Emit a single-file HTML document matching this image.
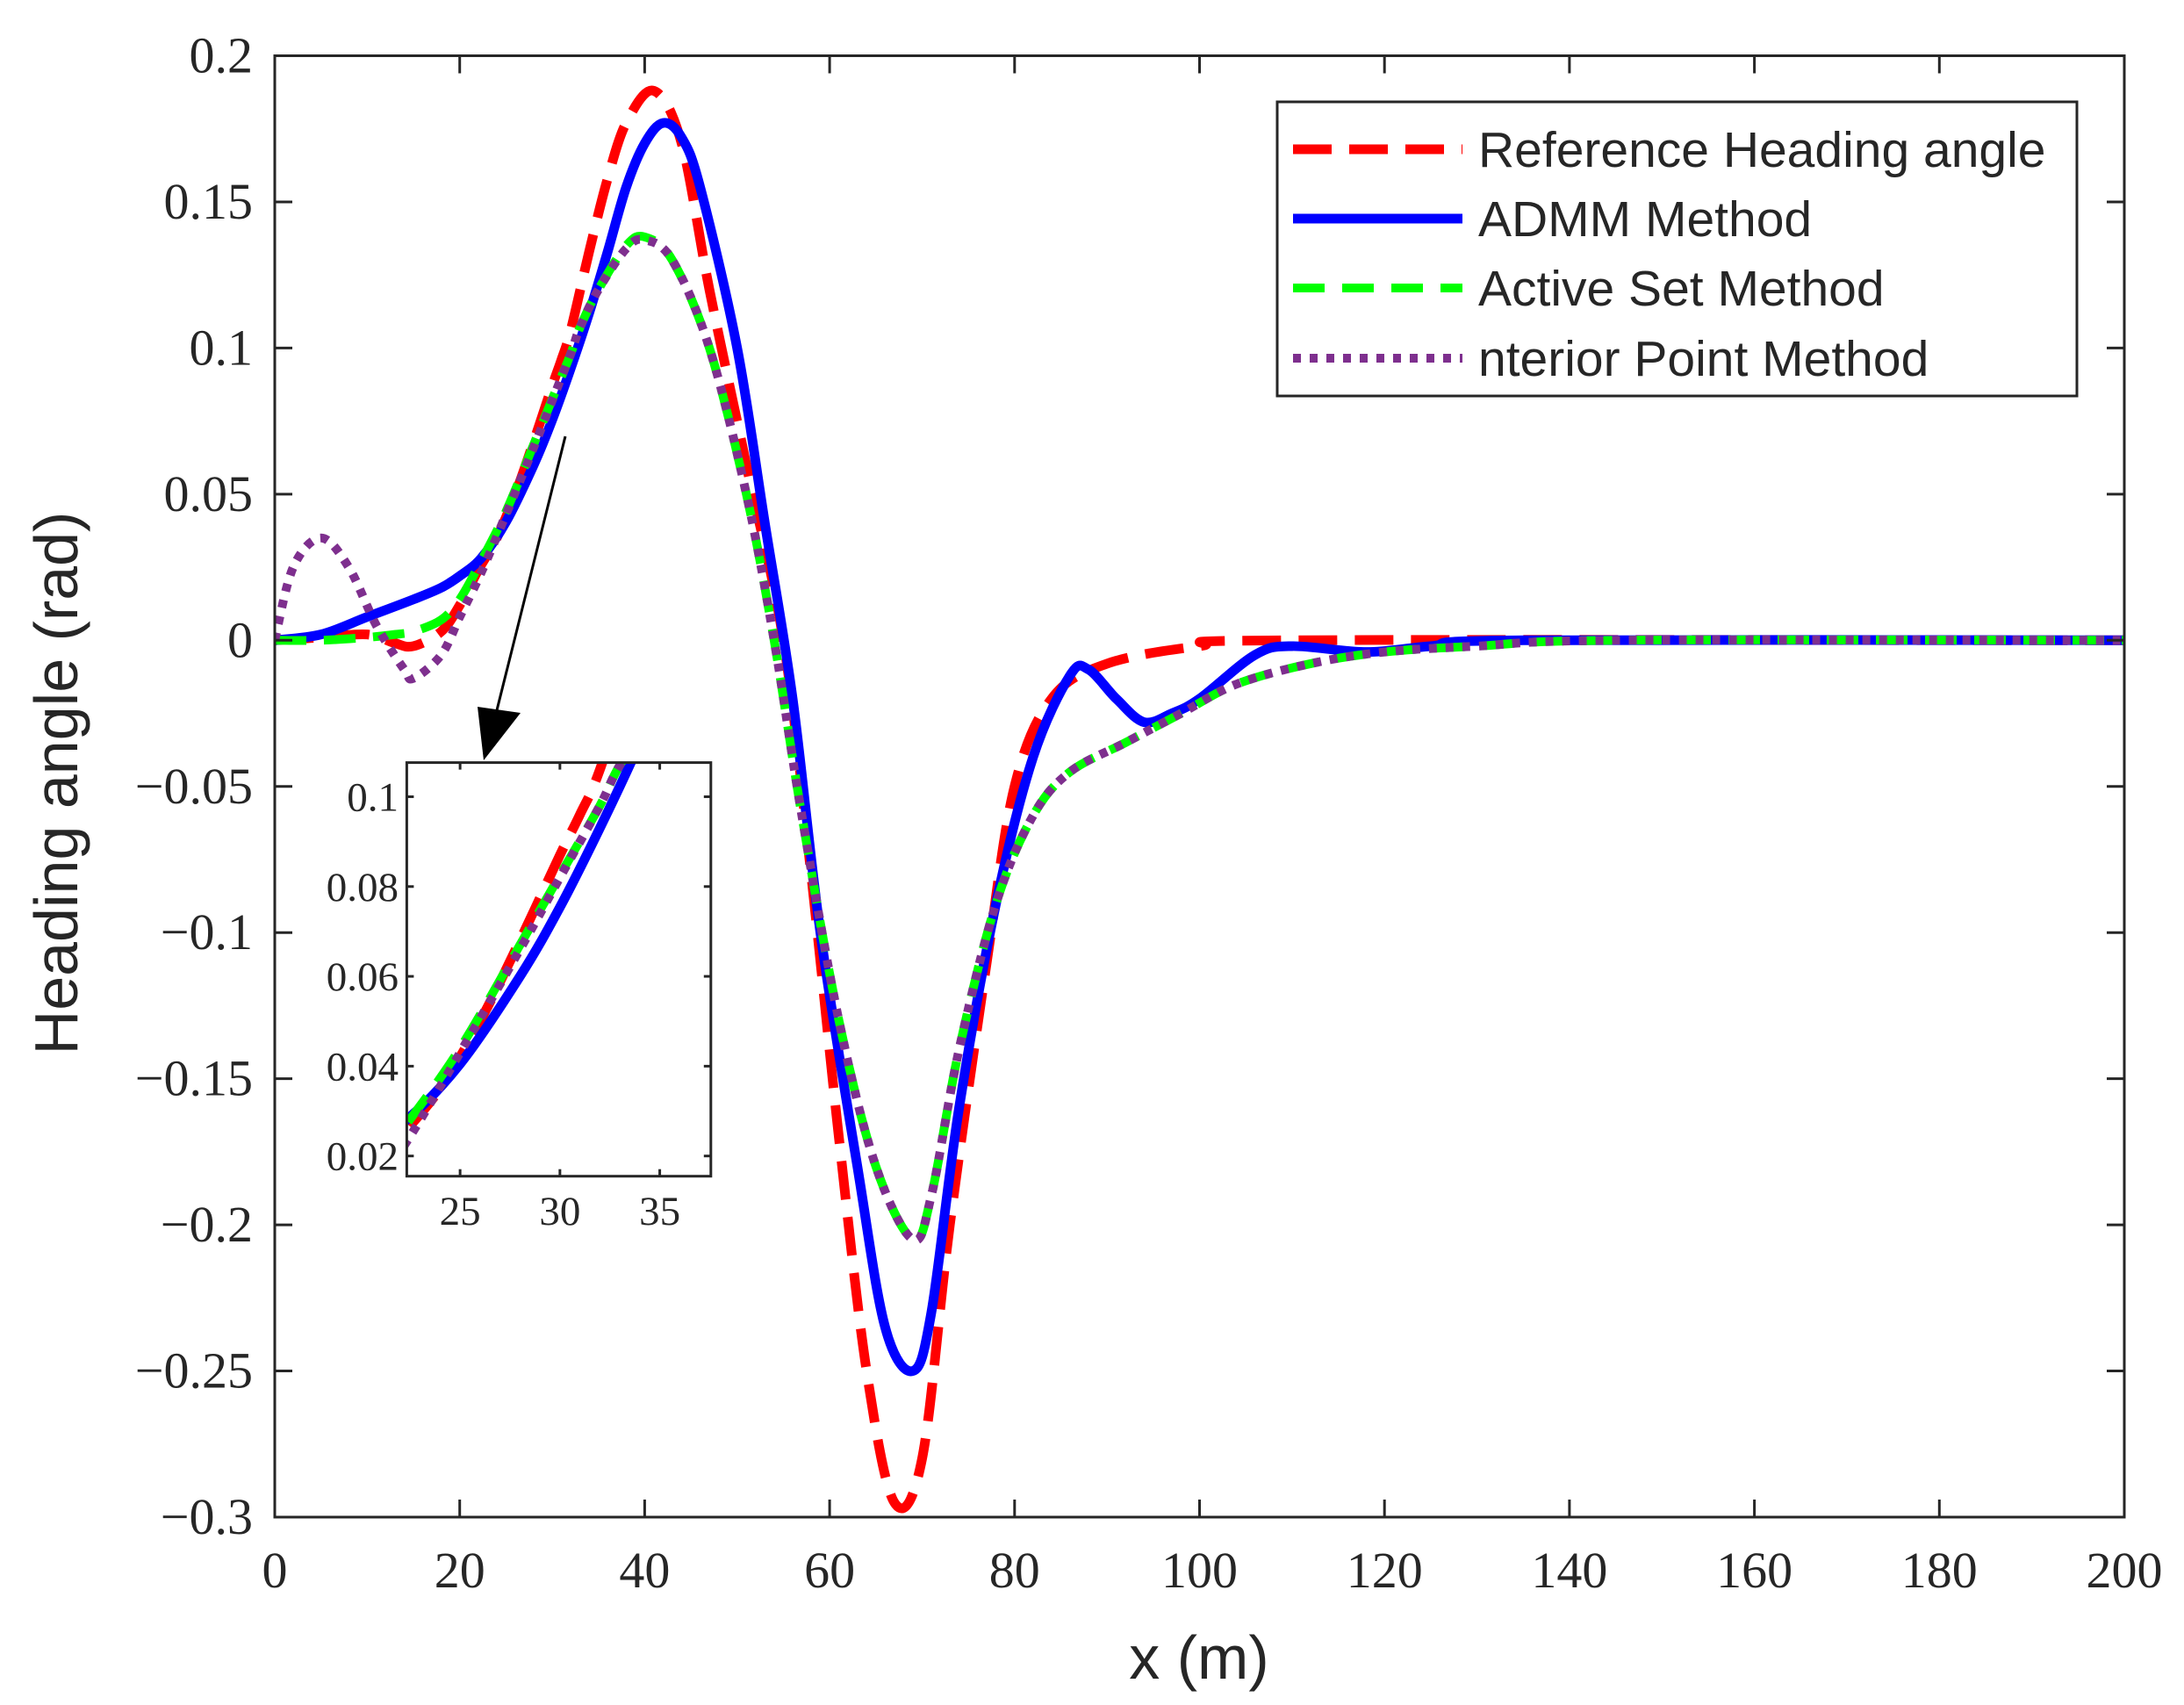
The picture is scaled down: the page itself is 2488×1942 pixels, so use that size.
<!DOCTYPE html>
<html><head><meta charset="utf-8"><style>
html,body{margin:0;padding:0;background:#fff;width:2488px;height:1942px;overflow:hidden;}
svg{display:block;}
.tk{font-family:"Liberation Serif",serif;fill:#262626;}
.sa{font-family:"Liberation Sans",sans-serif;fill:#262626;}
</style></head><body>
<svg id="chart" width="2488" height="1942" viewBox="0 0 2488 1942" xmlns="http://www.w3.org/2000/svg"></svg>
<script>
// ---- data ----
const xTicks = [0,20,40,60,80,100,120,140,160,180,200];
const yTicks = [0.2,0.15,0.1,0.05,0,-0.05,-0.1,-0.15,-0.2,-0.25,-0.3];
const yTickLabels = ["0.2","0.15","0.1","0.05","0","\u22120.05","\u22120.1","\u22120.15","\u22120.2","\u22120.25","\u22120.3"];
const insetXTicks = [25,30,35];
const insetYTicks = [0.02,0.04,0.06,0.08,0.1];
const insetYTickLabels = ["0.02","0.04","0.06","0.08","0.1"];
const seriesNames = ["Reference Heading angle","ADMM Method","Active Set Method","nterior Point Method"];

const refX = [0,5,10,13,15,18,20,22,24,26,28,30,31,32,34,36,38,41,44,47,51,55,58,61,64,67,70,73,77,80,84,90,100,110,200];
const refY = [0,0.001,0.002,-0.001,-0.002,0.003,0.012,0.024,0.035,0.05,0.068,0.087,0.096,0.106,0.133,0.158,0.177,0.188,0.17,0.12,0.06,0,-0.08,-0.17,-0.25,-0.295,-0.28,-0.2,-0.11,-0.05,-0.02,-0.008,-0.002,0,0];

const admmX = [0,5,10,15,18,20,22.3,25,28,30,32,34,36,38,40,42,44,46,50,53,56,59,63,66,69,71,74,78,82,86,88,91,94,97,100,106,110,118,125,135,200];
const admmY = [0,0.002,0.008,0.014,0.018,0.022,0.028,0.0405,0.06,0.0754,0.093,0.112,0.133,0.155,0.17,0.177,0.172,0.155,0.1,0.04,-0.02,-0.1,-0.18,-0.235,-0.25,-0.23,-0.16,-0.09,-0.04,-0.012,-0.01,-0.02,-0.028,-0.025,-0.02,-0.005,-0.002,-0.004,-0.002,0,0];

const asX = [0,5,10,13,15,18,20,22.3,25,28,30,32,33,35,38,40,43,47,51,54,57,61,65,69,71,74,78,82,86,92,98,104,112,120,130,145,200];
const asY = [0,0,0.001,0.002,0.003,0.007,0.014,0.027,0.044,0.067,0.0825,0.098,0.107,0.12,0.135,0.138,0.13,0.1,0.05,0,-0.06,-0.13,-0.18,-0.205,-0.19,-0.14,-0.09,-0.06,-0.045,-0.035,-0.025,-0.015,-0.008,-0.004,-0.002,0,0];

const ipX = [0,2,5,8,11,14,15,18,20,22.3,25,28,30,32,33,35,38,40,43,47,51,54,57,61,65,69,71,74,78,82,86,92,98,104,112,120,130,145,200];
const ipY = [0,0.025,0.035,0.025,0.005,-0.01,-0.013,-0.005,0.008,0.023,0.043,0.066,0.082,0.098,0.107,0.12,0.134,0.137,0.13,0.1,0.05,0,-0.06,-0.13,-0.18,-0.205,-0.19,-0.14,-0.09,-0.06,-0.045,-0.035,-0.025,-0.015,-0.008,-0.004,-0.002,0,0];

// ---- layout ----
const NS="http://www.w3.org/2000/svg";
const svg=document.getElementById('chart');
const M={l:313,r:2420,t:63.5,b:1728,x0:0,x1:200,y0:-0.3,y1:0.2};
const I={l:463.4,r:809.8,t:868.6,b:1339.7,x0:22.33,x1:37.56,y0:0.0155,y1:0.1076};
function sx(a,x){return a.l+(x-a.x0)/(a.x1-a.x0)*(a.r-a.l);}
function sy(a,y){return a.b-(y-a.y0)/(a.y1-a.y0)*(a.b-a.t);}
function mk(tag,attrs,parent){const e=document.createElementNS(NS,tag);for(const k in attrs)e.setAttribute(k,attrs[k]);(parent||svg).appendChild(e);return e;}
function pathFor(a,xs,ys){
  const p=xs.map((x,i)=>[sx(a,x),sy(a,ys[i])]);
  let d=`M${p[0][0]},${p[0][1]}`;
  for(let i=0;i<p.length-1;i++){
    const p0=p[Math.max(i-1,0)],p1=p[i],p2=p[i+1],p3=p[Math.min(i+2,p.length-1)];
    const c1=[p1[0]+(p2[0]-p0[0])/6,p1[1]+(p2[1]-p0[1])/6];
    const c2=[p2[0]-(p3[0]-p1[0])/6,p2[1]-(p3[1]-p1[1])/6];
    d+=`C${c1[0]},${c1[1]} ${c2[0]},${c2[1]} ${p2[0]},${p2[1]}`;
  }
  return d;
}
const styles=[
  {xs:refX,ys:refY,stroke:'#ff0000',w:11,dash:'44 20',name:'series-reference'},
  {xs:admmX,ys:admmY,stroke:'#0000ff',w:11,dash:'',name:'series-admm'},
  {xs:asX,ys:asY,stroke:'#00ff00',w:10,dash:'36 20',name:'series-active-set'},
  {xs:ipX,ys:ipY,stroke:'#7e2f8e',w:10,dash:'9 10',name:'series-interior-point'}
];

const defs=mk('defs',{});
const cpM=mk('clipPath',{id:'cpM'},defs);mk('rect',{x:M.l,y:M.t,width:M.r-M.l,height:M.b-M.t},cpM);
const cpI=mk('clipPath',{id:'cpI'},defs);mk('rect',{x:I.l,y:I.t,width:I.r-I.l,height:I.b-I.t},cpI);

const gM=mk('g',{'clip-path':'url(#cpM)'});


styles.forEach(s=>{
  const p=mk('path',{d:pathFor(M,s.xs,s.ys),fill:'none',stroke:s.stroke,'stroke-width':s.w,'stroke-dasharray':s.dash},gM);
  
  
});

const box=mk('rect',{x:M.l,y:M.t,width:M.r-M.l,height:M.b-M.t,fill:'none',stroke:'#262626','stroke-width':3});


xTicks.forEach(x=>{
  const X=sx(M,x);
  mk('line',{x1:X,x2:X,y1:M.b,y2:M.b-20,stroke:'#262626','stroke-width':3});
  mk('line',{x1:X,x2:X,y1:M.t,y2:M.t+20,stroke:'#262626','stroke-width':3});
  const t=mk('text',{x:X,y:1808,'text-anchor':'middle','font-size':58,class:'tk'});
  t.textContent=x;
  
  
});
yTicks.forEach((y,i)=>{
  const Y=sy(M,y);
  mk('line',{x1:M.l,x2:M.l+20,y1:Y,y2:Y,stroke:'#262626','stroke-width':3});
  mk('line',{x1:M.r,x2:M.r-20,y1:Y,y2:Y,stroke:'#262626','stroke-width':3});
  const t=mk('text',{x:288,y:Y+19,'text-anchor':'end','font-size':58,class:'tk'});
  t.textContent=yTickLabels[i];
  
  
});
const xl=mk('text',{x:1366,y:1912,'text-anchor':'middle','font-size':70,class:'sa'});
xl.textContent='x (m)';


const yl=mk('text',{x:0,y:0,'text-anchor':'middle','font-size':70,class:'sa',transform:'translate(88,892) rotate(-90)'});
yl.textContent='Heading angle (rad)';



const ar=mk('line',{x1:644,y1:497,x2:562,y2:825,stroke:'#000','stroke-width':3});


const ah=mk('polygon',{points:'551,866 544,805 593,812',fill:'#000'});



mk('rect',{x:I.l,y:I.t,width:I.r-I.l,height:I.b-I.t,fill:'#fff',stroke:'none'});
const gI=mk('g',{'clip-path':'url(#cpI)'});


styles.forEach(s=>{
  const p=mk('path',{d:pathFor(I,s.xs,s.ys),fill:'none',stroke:s.stroke,'stroke-width':s.w,'stroke-dasharray':s.dash},gI);
  
  
});
const ibox=mk('rect',{x:I.l,y:I.t,width:I.r-I.l,height:I.b-I.t,fill:'none',stroke:'#262626','stroke-width':3});


insetXTicks.forEach(x=>{
  const X=sx(I,x);
  mk('line',{x1:X,x2:X,y1:I.b,y2:I.b-8,stroke:'#262626','stroke-width':3});
  mk('line',{x1:X,x2:X,y1:I.t,y2:I.t+8,stroke:'#262626','stroke-width':3});
  const t=mk('text',{x:X,y:1395,'text-anchor':'middle','font-size':47,class:'tk'});
  t.textContent=x;
  
  
});
insetYTicks.forEach((y,i)=>{
  const Y=sy(I,y);
  mk('line',{x1:I.l,x2:I.l+8,y1:Y,y2:Y,stroke:'#262626','stroke-width':3});
  mk('line',{x1:I.r,x2:I.r-8,y1:Y,y2:Y,stroke:'#262626','stroke-width':3});
  const t=mk('text',{x:454,y:Y+16,'text-anchor':'end','font-size':47,class:'tk'});
  t.textContent=insetYTickLabels[i];
  
  
});

const lg=mk('g',{});


mk('rect',{x:1455,y:116,width:911,height:335,fill:'#fff',stroke:'#262626','stroke-width':3},lg);
const legY=[170,249,328,408];
styles.forEach((s,i)=>{
  const e=mk('g',{},lg);
  
  
  mk('line',{x1:1473,x2:1666,y1:legY[i],y2:legY[i],stroke:s.stroke,'stroke-width':s.w,'stroke-dasharray':s.dash},e);
  const t=mk('text',{x:1684,y:legY[i]+20,'font-size':57,class:'sa'},e);
  t.textContent=seriesNames[i];
});
</script>
</body></html>
